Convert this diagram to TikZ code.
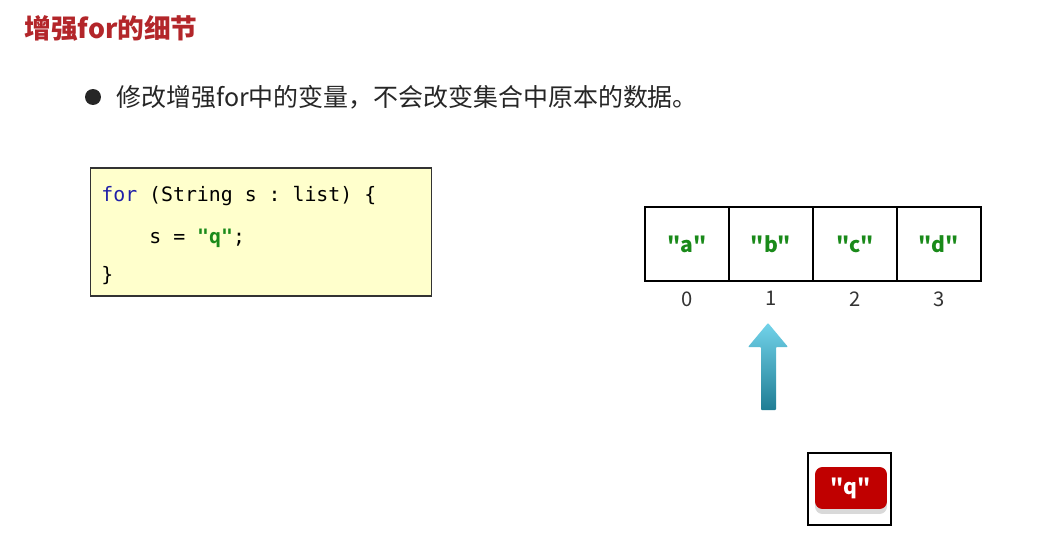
\documentclass[tikz,border=0pt]{standalone}
\usepackage{fontspec}
\setmainfont{Noto Sans CJK SC}[Ligatures=TeXOff]
\setmonofont{DejaVu Sans Mono}
\usetikzlibrary{positioning, shadows}
\usepackage{xcolor}

\definecolor{titlurosu}{HTML}{B3262A}
\definecolor{codgalben}{HTML}{FFFFCC}
\definecolor{codalbastru}{HTML}{1F1FA8}
\definecolor{verdesir}{HTML}{1A8A1A}
\definecolor{sagetasus}{HTML}{72D3EA}
\definecolor{sagetajos}{HTML}{1F7D94}
\definecolor{butonrosu}{HTML}{C00000}

\begin{document}
\begin{tikzpicture}[
        x=0.02cm, y=-0.02cm,
        font=\fontsize{14.2}{16}\selectfont,
        titlu/.style={font=\fontsize{15.2}{18}\selectfont\bfseries, text=titlurosu, anchor=west, inner sep=0pt},
        punct/.style={circle, fill=black!85, minimum size=0.32cm, inner sep=0pt},
        enunt/.style={anchor=west, inner sep=0pt, text=black!85},
        cod/.style={draw=black!80, fill=codgalben, semithick, minimum width=6.84cm, minimum height=2.56cm, inner sep=0pt},
        linie/.style={font=\ttfamily\fontsize{11.3}{13}\selectfont, anchor=west, inner sep=0pt},
        celula/.style={draw, line width=1.1pt, minimum width=1.68cm, minimum height=1.48cm, outer sep=0pt, inner sep=0pt,
            font=\fontsize{12}{14}\selectfont\bfseries, text=verdesir},
        indice/.style={font=\fontsize{11.5}{14}\selectfont, text=black!80, inner sep=0pt},
        cutie/.style={draw, line width=1pt, minimum width=1.66cm, minimum height=1.44cm},
        buton/.style={fill=butonrosu, rounded corners=1.5mm, minimum width=1.44cm, minimum height=0.84cm,
            font=\fontsize{12}{14}\selectfont\bfseries, text=white,
            drop shadow={shadow xshift=0pt, shadow yshift=-0.1cm, fill=black!15, opacity=1}},
    ]
        \useasboundingbox[fill=white] (0,0) rectangle (1039,537);
        % titlu si enunt
        \node[titlu] (titlu) at (24,28) {增强for的细节};
        \node[punct] (bulina) at (93,97) {};
        \node[enunt] (text) at (116,97) {修改增强for中的变量，不会改变集合中原本的数据。};
        % codul
        \node[cod] (cod) at (261,232) {};
        \node[linie] (l1) at (101,196) {\textcolor{codalbastru}{for} (String s : list) \{};
        \node[linie] (l2) at (149,238) {s = \textcolor{verdesir}{\bfseries"q"};};
        \node[linie] (l3) at (101,276) {\}};
        % tabloul
        \node[celula] (c0) at (687,244) {"a"};
        \node[celula, right=0pt of c0] (c1) {"b"};
        \node[celula, right=0pt of c1] (c2) {"c"};
        \node[celula, right=0pt of c2] (c3) {"d"};
        \node[indice, below=2mm of c0] (i0) {0};
        \node[indice, below=2mm of c1] (i1) {1};
        \node[indice, below=2mm of c2] (i2) {2};
        \node[indice, below=2mm of c3] (i3) {3};
        % sageata
        \shade[top color=sagetasus, bottom color=sagetajos, rounded corners=0.5pt]
            (768,323) -- (788,347) -- (776,347) -- (776,410) -- (761,410) -- (761,347) -- (748,347) -- cycle;
        % variabila s
        \node[cutie] (s) at (849.5,489) {};
        \node[buton] (q) at (851,488) {"q"};
    \end{tikzpicture}
\end{document}
